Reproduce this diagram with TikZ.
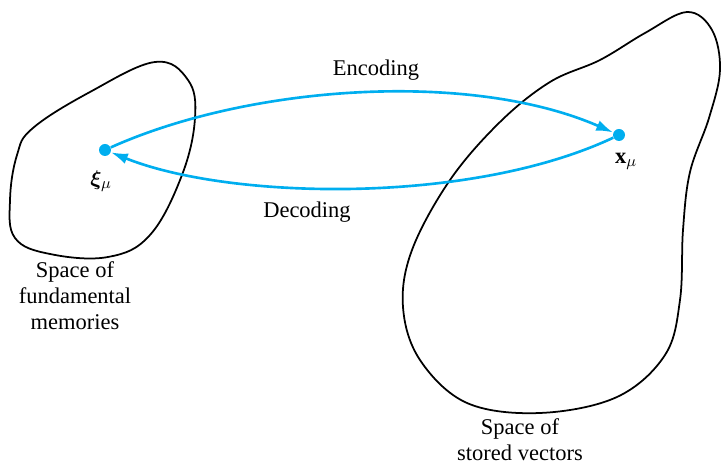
\documentclass[tikz,border=0pt]{standalone}
\usepackage{amsmath,bm}
\usepackage{fontspec}
\setmainfont{Liberation Serif}
\usetikzlibrary{arrows.meta}
\definecolor{mapblue}{RGB}{0,174,239}
\tikzset{
  dot/.style={circle,fill=mapblue,inner sep=0pt,minimum size=0.24cm},
  maparrow/.style={mapblue,line width=1.5pt,-{Latex[length=0.34cm,width=0.22cm]}},
  blob/.style={line width=1pt},
  lbl/.style={font=\fontsize{12.8}{14.8}\selectfont,align=center}
}
\begin{document}
\begin{tikzpicture}[x=0.02cm,y=-0.02cm]
\useasboundingbox (0,0) rectangle (721,465);
\draw[blob] plot[smooth cycle,tension=0.65] coordinates {(155,62) (188,80) (195,118) (182,175) (150,235) (108,257) (50,254) (15,238) (10,200) (17,155) (33,128) (90,92)};
\draw[blob] plot[smooth cycle,tension=0.6] coordinates {(687,12) (712,30) (720,70) (709,118) (690,172) (683,230) (680,300) (665,355) (617,397) (540,413) (467,403) (420,360) (403,307) (412,250) (450,180) (500,122) (550,82) (600,60) (645,33)};
\node[dot] (xi) at (105,150) {};
\node[dot] (x) at (619,135) {};
\node[lbl] (xilbl) at (101,181) {$\bm{\xi}_\mu$};
\node[lbl] (xlbl) at (626,161) {$\mathbf{x}_\mu$};
\draw[maparrow] (xi) .. controls (250,85) and (470,70) .. (x);
\draw[maparrow] (x) .. controls (470,205) and (230,200) .. (xi);
\node[lbl] (enc) at (376,70) {Encoding};
\node[lbl] (dec) at (307,212) {Decoding};
\node[lbl] (fund) at (75,296) {Space of\\fundamental\\memories};
\node[lbl] (stored) at (520,440) {Space of\\stored vectors};
\end{tikzpicture}
\end{document}
